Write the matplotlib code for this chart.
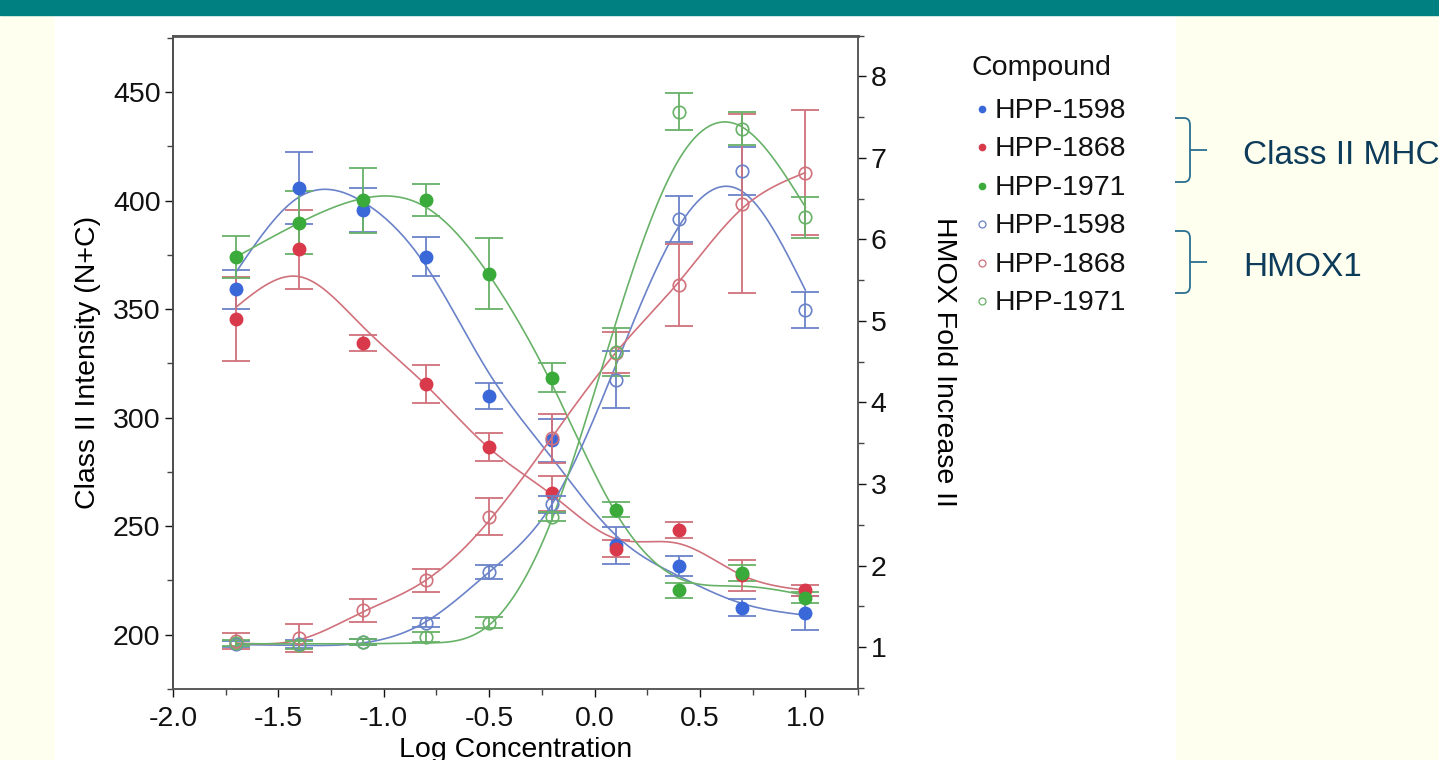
import numpy as np
import matplotlib
matplotlib.use("Agg")
import matplotlib.pyplot as plt
from matplotlib.lines import Line2D
from matplotlib.patches import Rectangle, PathPatch
from matplotlib.path import Path
from matplotlib.ticker import MultipleLocator

plt.rcParams['font.family'] = ['Liberation Sans', 'DejaVu Sans']

W, H = 1439, 760

# ---- data ----
log_conc = [-1.7, -1.4, -1.1, -0.8, -0.5, -0.2, 0.1, 0.4, 0.7, 1.0]
compounds = ['HPP-1598', 'HPP-1868', 'HPP-1971']

# Class II intensity (left axis), filled markers
mhc_1598 = [359.2, 405.9, 395.6, 374.1, 310.0, 289.6, 241.2, 231.6, 212.5, 210.0]
mhc_1598_err = [9, 16.6, 10, 9, 6.2, 10, 8.5, 4.7, 3.8, 8]
mhc_1868 = [345.5, 377.6, 334.2, 315.6, 286.4, 265.1, 239.7, 248.2, 227.4, 220.5]
mhc_1868_err = [19.5, 18.1, 3.7, 8.7, 6.5, 8, 4, 3.7, 7.2, 2.5]
mhc_1971 = [374.1, 389.8, 400.2, 400.2, 366.4, 318.5, 257.7, 220.5, 228.6, 217.1]
mhc_1971_err = [9.7, 14.6, 15, 7.3, 16.3, 6.8, 3.5, 3.5, 3.7, 2.5]

# spline fit values of the Class II curves at each concentration
mhc_1598_fit = [367.2, 401.8, 399.5, 370.0, 320.4, 281.2, 245.9, 227.0, 214.4, 209.0]
mhc_1868_fit = [351.0, 365.0, 342.0, 315.0, 286.0, 264.3, 244.3, 242.0, 227.4, 220.5]
mhc_1971_fit = [374.1, 389.8, 401.0, 397.0, 365.7, 315.0, 256.4, 226.0, 222.4, 218.2]

# HMOX fold increase (right axis), open markers
hmox_1598 = [1.04, 1.04, 1.06, 1.30, 1.92, 2.75, 4.28, 6.25, 6.84, 5.13]
hmox_1598_err = [0.04, 0.05, 0.04, 0.05, 0.09, 0.1, 0.35, 0.28, 0.3, 0.22]
hmox_1868 = [1.07, 1.11, 1.45, 1.82, 2.60, 3.56, 4.61, 5.44, 6.44, 6.82]
hmox_1868_err = [0.1, 0.17, 0.14, 0.14, 0.23, 0.3, 0.25, 0.5, 1.1, 0.77]
hmox_1971 = [1.05, 1.03, 1.06, 1.12, 1.30, 2.60, 4.62, 7.57, 7.36, 6.27]
hmox_1971_err = [0.04, 0.05, 0.04, 0.06, 0.07, 0.06, 0.3, 0.23, 0.2, 0.25]

hmox_1598_fit = [1.03, 1.02, 1.05, 1.31, 1.92, 2.76, 4.45, 6.16, 6.59, 5.38]
hmox_1868_fit = [1.05, 1.09, 1.43, 1.82, 2.55, 3.58, 4.61, 5.48, 6.38, 6.82]
hmox_1971_fit = [1.04, 1.04, 1.04, 1.05, 1.27, 2.58, 4.97, 6.98, 7.38, 6.40]

dot_colors = ['#3b68d9', '#d93a4b', '#3aaa3a']
line_colors = ['#6a82c8', '#d0717c', '#68b268']


def natural_spline(xk, yk, xs):
    xk = np.asarray(xk, float)
    yk = np.asarray(yk, float)
    n = len(xk)
    h = np.diff(xk)
    A = np.zeros((n, n))
    b = np.zeros(n)
    A[0, 0] = A[-1, -1] = 1
    for i in range(1, n - 1):
        A[i, i - 1] = h[i - 1]
        A[i, i] = 2 * (h[i - 1] + h[i])
        A[i, i + 1] = h[i]
        b[i] = 3 * ((yk[i + 1] - yk[i]) / h[i] - (yk[i] - yk[i - 1]) / h[i - 1])
    c = np.linalg.solve(A, b)
    bb = (yk[1:] - yk[:-1]) / h - h * (2 * c[:-1] + c[1:]) / 3
    d = (c[1:] - c[:-1]) / (3 * h)
    idx = np.clip(np.searchsorted(xk, xs) - 1, 0, n - 2)
    t = xs - xk[idx]
    return yk[idx] + bb[idx] * t + c[idx] * t ** 2 + d[idx] * t ** 3


fig = plt.figure(figsize=(W / 100, H / 100), dpi=100, facecolor='#fffff0')
fig.patches.append(Rectangle((55 / W, 0), (1175 - 55) / W, 745 / H,
                             transform=fig.transFigure, color='white', zorder=-2))
fig.patches.append(Rectangle((0, 745 / H), 1, 15 / H,
                             transform=fig.transFigure, color='#008080', zorder=-2))

ax = fig.add_axes([173 / W, 1 - 689 / H, (858 - 173) / W, (689 - 35.7) / H])
ax2 = ax.twinx()

xs = np.linspace(log_conc[0], log_conc[-1], 300)

mhc = [(mhc_1598, mhc_1598_err, mhc_1598_fit),
       (mhc_1868, mhc_1868_err, mhc_1868_fit),
       (mhc_1971, mhc_1971_err, mhc_1971_fit)]
hmox = [(hmox_1598, hmox_1598_err, hmox_1598_fit),
        (hmox_1868, hmox_1868_err, hmox_1868_fit),
        (hmox_1971, hmox_1971_err, hmox_1971_fit)]

for i in range(3):
    vals, err, fit = mhc[i]
    ax.plot(xs, natural_spline(log_conc, fit, xs), color=line_colors[i], lw=1.2, zorder=2)
    ax.errorbar(log_conc, vals, yerr=err, fmt='none', ecolor=line_colors[i],
                elinewidth=1.3, capsize=10, capthick=1.3, zorder=3)
    ax.plot(log_conc, vals, 'o', ms=9, color=dot_colors[i], mec=dot_colors[i], zorder=4)

for i in range(3):
    vals, err, fit = hmox[i]
    ax2.plot(xs, natural_spline(log_conc, fit, xs), color=line_colors[i], lw=1.2, zorder=2)
    ax2.errorbar(log_conc, vals, yerr=err, fmt='none', ecolor=line_colors[i],
                 elinewidth=1.3, capsize=10, capthick=1.3, zorder=3)
    ax2.plot(log_conc, vals, 'o', ms=9, mfc='none', mec=line_colors[i], mew=1.2, zorder=4)

ax.set_xlim(-2.0, 1.25)
ax.set_ylim(175, 476)
ax2.set_ylim(0.485, 8.5)

ax.xaxis.set_major_locator(MultipleLocator(0.5))
ax.xaxis.set_minor_locator(MultipleLocator(0.25))
ax.yaxis.set_major_locator(MultipleLocator(50))
ax.yaxis.set_minor_locator(MultipleLocator(25))
ax2.yaxis.set_major_locator(MultipleLocator(1))
ax2.yaxis.set_minor_locator(MultipleLocator(0.5))
ax.set_xticks([-2.0, -1.5, -1.0, -0.5, 0.0, 0.5, 1.0])
ax.set_xticklabels(['-2.0', '-1.5', '-1.0', '-0.5', '0.0', '0.5', '1.0'])

fs = 20.5
for a in (ax, ax2):
    a.tick_params(which='major', length=6, width=1, labelsize=fs, pad=3, colors='#111111')
    a.tick_params(which='minor', length=4, width=1, colors='#444444')
    for s in a.spines.values():
        s.set_color('#555555')
        s.set_linewidth(1.1)
ax.spines['top'].set_linewidth(2)
ax.spines['left'].set_color('#111111')
ax.tick_params(axis='x', pad=6)

ax.set_xlabel('Log Concentration', fontsize=fs)
ax.xaxis.set_label_coords(0.5, -0.073)
ax.set_ylabel('Class II Intensity (N+C)', fontsize=fs)
ax.yaxis.set_label_coords(-0.105, 0.5)
ax2.set_ylabel('HMOX Fold Increase II', fontsize=fs, rotation=270, va='bottom')
ax2.yaxis.set_label_coords(1.106, 0.5)

# legend, laid out by hand to match the row spacing
fig.text(972 / W, 1 - 68 / H, 'Compound', fontsize=fs, va='center', color='#111111')
for k in range(6):
    y = 1 - (109 + k * 38.4) / H
    c = k % 3
    if k < 3:
        mk = Line2D([982 / W], [y], ls='none', marker='o', ms=4.5, color=dot_colors[c],
                    transform=fig.transFigure)
    else:
        mk = Line2D([982 / W], [y], ls='none', marker='o', ms=5, mfc='white',
                    mec=line_colors[c], mew=0.9, transform=fig.transFigure)
    fig.add_artist(mk)
    fig.text(995 / W, y - 2 / H, compounds[c], fontsize=fs, va='center', color='#111111')


def brace(top, bottom, color='#2a7090'):
    mid = (top + bottom) / 2
    pts = [(1175, top), (1184, top), (1190, top), (1190, top + 7),
           (1190, bottom - 7), (1190, bottom), (1184, bottom), (1175, bottom),
           (1190, mid), (1207, mid)]
    codes = [Path.MOVETO, Path.LINETO, Path.CURVE3, Path.CURVE3,
             Path.LINETO, Path.CURVE3, Path.CURVE3, Path.LINETO,
             Path.MOVETO, Path.LINETO]
    verts = [(x / W, 1 - y / H) for x, y in pts]
    fig.patches.append(PathPatch(Path(verts, codes), transform=fig.transFigure,
                                 fc='none', ec=color, lw=1.3))


brace(118, 182)
brace(231, 293)
fig.text(1243 / W, 1 - 155 / H, 'Class II MHC', fontsize=24, color='#0d3b5a', va='center')
fig.text(1243 / W, 1 - 267 / H, 'HMOX1', fontsize=24, color='#0d3b5a', va='center')

fig.savefig('out.png', dpi=100, facecolor=fig.get_facecolor())
